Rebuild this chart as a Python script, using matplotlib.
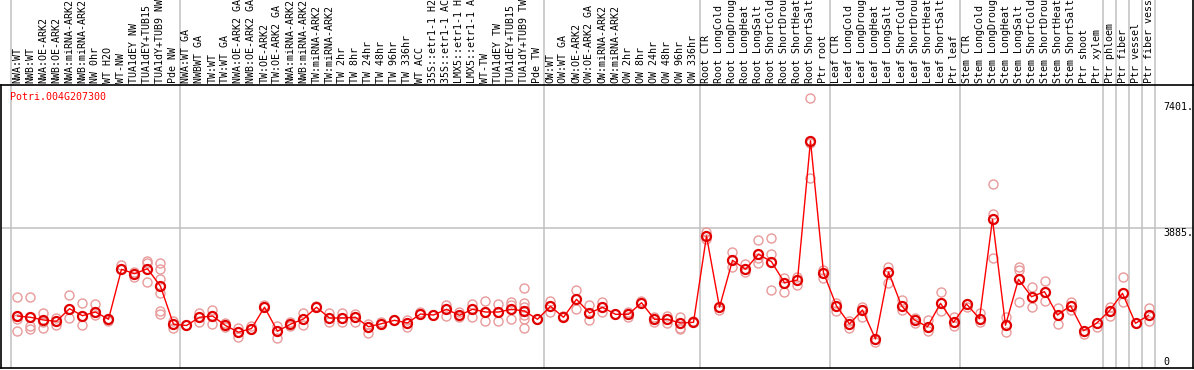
import matplotlib
matplotlib.use("Agg")
import matplotlib.pyplot as plt
import matplotlib.transforms as mtransforms

gene_id = "Potri.004G207300"

samples = [
    "NWA:WT", "NWB:WT", "NWA:OE-ARK2", "NWB:OE-ARK2", "NWA:miRNA-ARK2", "NWB:miRNA-ARK2",
    "NW 0hr", "WT H2O", "WT-NW", "TUA1dEY NW", "TUA1dEY+TUB15 NW", "TUA1dY+TUB9 NW", "Pde NW",
    "NWA:WT GA", "NWBWT GA", "TW:WT", "TW:WT GA", "NWA:OE-ARK2 GA", "NWB:OE-ARK2 GA",
    "TW:OE-ARK2", "TW:OE-ARK2 GA", "NWA:miRNA-ARK2", "NWB:miRNA-ARK2", "TW:miRNA-ARK2",
    "TW:miRNA-ARK2", "TW 2hr", "TW 8hr", "TW 24hr", "TW 48hr", "TW 96hr", "TW 336hr",
    "WT ACC", "35S::etr1-1 H2O", "35S::etr1-1 ACC", "LMX5::etr1-1 H2O", "LMX5::etr1-1 ACC",
    "WT-TW", "TUA1dEY TW", "TUA1dEY+TUB15 TW", "TUA1dY+TUB9 TW", "Pde TW",
    "OW:WT", "OW:WT GA", "OW:OE-ARK2", "OW:OE-ARK2 GA", "OW:miRNA-ARK2", "OW:miRNA-ARK2",
    "OW 2hr", "OW 8hr", "OW 24hr", "OW 48hr", "OW 96hr", "OW 336hr",
    "Root CTR", "Root LongCold", "Root LongDrought", "Root LongHeat", "Root LongSalt",
    "Root ShortCold", "Root ShortDrought", "Root ShortHeat", "Root ShortSalt", "Ptr root",
    "Leaf CTR", "Leaf LongCold", "Leaf LongDrought", "Leaf LongHeat", "Leaf LongSalt",
    "Leaf ShortCold", "Leaf ShortDrought", "Leaf ShortHeat", "Leaf ShortSalt", "Ptr leaf",
    "Stem CTR", "Stem LongCold", "Stem LongDrought", "Stem LongHeat", "Stem LongSalt",
    "Stem ShortCold", "Stem ShortDrought", "Stem ShortHeat", "Stem ShortSalt", "Ptr shoot",
    "Ptr xylem", "Ptr phloem", "Ptr fiber", "Ptr vessel", "Ptr fiber vessel",
]

means = [
    1425, 1389, 1314, 1277, 1629, 1434, 1537, 1333, 2731, 2608, 2747, 2256, 1193,
    1160, 1389, 1425, 1160, 973, 1076, 1671, 1001, 1196, 1342, 1669, 1370, 1370, 1389,
    1126, 1210, 1305, 1230, 1481, 1453, 1613, 1445, 1613, 1537, 1537, 1613, 1565, 1333,
    1697, 1389, 1892, 1509, 1669, 1473, 1473, 1797, 1333, 1333, 1230, 1249,
    3661, 1669, 2982, 2731, 3150, 2943, 2356, 2432, 6325, 2636,
    1705, 1202, 1593, 783, 2655, 1713, 1314, 1126, 1780, 1249,
    1761, 1350, 4128, 1166, 2451, 1965, 2105, 1453, 1713, 1015, 1221,
    1574, 2060, 1221, 1445,
]

replicates = [
    [1948, 1350, 1006], [1948, 1146, 1054], [1501, 1266, 1082], [1378, 1174],
    [2004, 1621, 1361], [1780, 1434, 1166], [1761, 1537, 1453], [1333, 1277],
    [2859, 2731], [2664, 2524], [2971, 2898, 2384], [2915, 2731, 2451, 2060, 1574, 1481],
    [1294, 1098],
    [1174], [1518, 1266], [1601, 1196], [1230, 1104], [1090, 844], [1146, 1054], [1738],
    [1146, 819], [1266, 1138], [1501, 1174], [1705], [1501, 1249], [1501, 1249],
    [1481, 1258], [1202, 959], [1266], [1305], [1314, 1126], [1546], [1453], [1741, 1425],
    [1546, 1406], [1761, 1406], [1845, 1294], [1761, 1294], [1817, 1741, 1333],
    [2208, 1780, 1669, 1453, 1333, 1098], [1333],
    [1853, 1537], [1425], [2144, 1613], [1733, 1314], [1825, 1529], [1473], [1546, 1406],
    [1853], [1406, 1266], [1434, 1221], [1406, 1098, 1054], [1294],
    [3765, 3578], [1593], [3206, 2787], [2870, 2647], [3541, 3038, 2915],
    [3597, 3158, 2144], [2488, 2096], [2524, 2284], [7510, 6269, 5274], [2711, 2479],
    [1797, 1574], [1294, 1098], [1685, 1406], [707], [2803, 2356], [1873, 1593],
    [1361, 1221], [1314, 1015], [2096, 1565], [1389, 1146],
    [1685], [1501, 1249], [5107, 4276, 3038], [1406, 968], [2803, 2711, 1817],
    [2228, 1685], [2415, 1845], [1641, 1193], [1825, 1593], [922], [1126],
    [1669, 1425], [2507, 1825], [], [1641, 1294],
]

# first sample index of every block, plus the end
group_starts = [0, 13, 41, 53, 63, 73, 84, 85, 86, 87, 88]

tick_values = [7401, 3885, 0]
tick_labels = ["7401.", "3885.", "0"]

mono = "DejaVu Sans Mono"
fs = 7.2

fig = plt.figure(figsize=(11.94, 3.70), dpi=100)
ax = fig.add_axes([1 / 1194, 2 / 370, 1192 / 1194, 283 / 370])
ax.set_xlim(-1.269, 90.423)
ax.set_ylim(-28, 7882)
ax.set_xticks([])
ax.set_yticks([])
for s in ax.spines.values():
    s.set_color("black")
    s.set_linewidth(1.2)

top_ext = 368 / 283.0

# group separators running up through the label band
for g in group_starts:
    ax.axvline(g - 0.5, ymin=0, ymax=top_ext, color="#c0c0c0", lw=1.1,
               clip_on=False, zorder=1)
ax.axvline(ax.get_xlim()[1], ymin=1, ymax=top_ext, color="black", lw=1.2,
           clip_on=False, zorder=1)
ax.axhline(tick_values[1], color="#c0c0c0", lw=1.1, zorder=1)

# replicate values
for i, reps in enumerate(replicates):
    ax.plot([i] * len(reps), reps, linestyle="none", marker="o", ms=6.5,
            mfc="none", mec="#e99a9a", mew=1.0, zorder=2)

x = list(range(len(means)))
ax.plot(x, means, color="#ff0000", lw=1.0, zorder=3)
ax.plot(x, means, linestyle="none", marker="o", ms=6.5, mfc="none",
        mec="#e00000", mew=1.6, zorder=4)

# sample labels above the plot
trans = mtransforms.blended_transform_factory(ax.transData, ax.transAxes)
for i, lab in enumerate(samples):
    ax.text(i, 1.008, lab, rotation=90, ha="center", va="bottom", family=mono,
            fontsize=fs, color="black", transform=trans, clip_on=False)

# value labels on the right
xr = 88.12
ax.text(xr, tick_values[0], tick_labels[0], ha="left", va="top", family=mono, fontsize=fs)
ax.text(xr, tick_values[1], tick_labels[1], ha="left", va="top", family=mono, fontsize=fs)
ax.text(xr, tick_values[2], tick_labels[2], ha="left", va="bottom", family=mono, fontsize=fs)

fig.text(10 / 1194, 1 - 97 / 370, gene_id, color="#ff0000", family=mono,
         fontsize=fs, ha="left", va="center")

fig.savefig("out.png", dpi=100)
